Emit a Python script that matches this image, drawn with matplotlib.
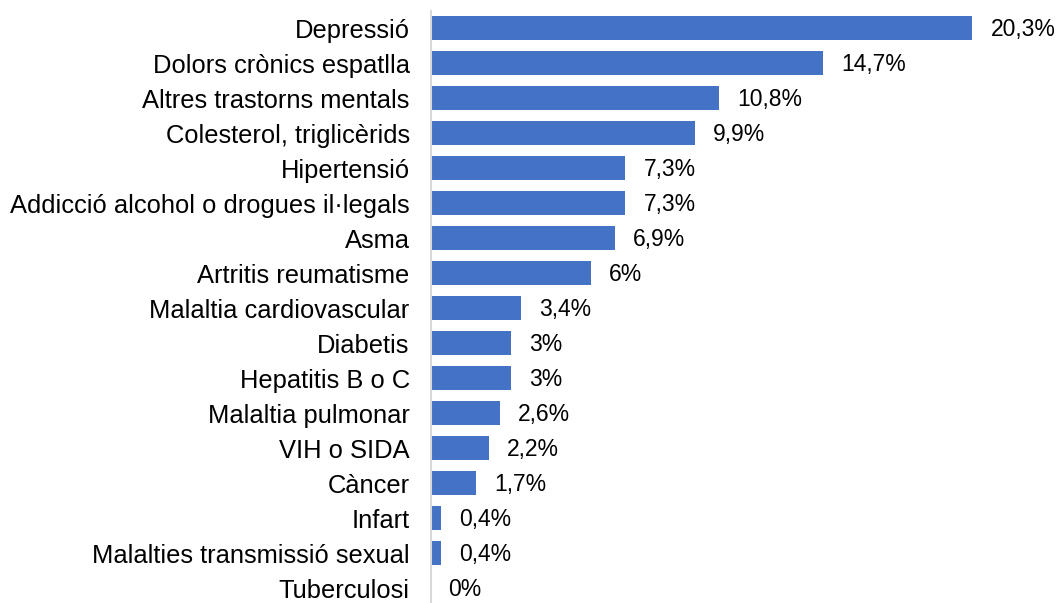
import matplotlib.pyplot as plt
import numpy as np

plt.rcParams['font.family'] = ['Liberation Sans', 'DejaVu Sans']

categories = ['Depressió', 'Dolors crònics espatlla', 'Altres trastorns mentals',
              'Colesterol, triglicèrids', 'Hipertensió',
              'Addicció alcohol o drogues il·legals', 'Asma', 'Artritis reumatisme',
              'Malaltia cardiovascular', 'Diabetis', 'Hepatitis B o C',
              'Malaltia pulmonar', 'VIH o SIDA', 'Càncer', 'Infart',
              'Malalties transmissió sexual', 'Tuberculosi']
values = [20.3, 14.7, 10.8, 9.9, 7.3, 7.3, 6.9, 6.0, 3.4, 3.0, 3.0, 2.6, 2.2, 1.7, 0.4, 0.4, 0.0]


def fmt(v):
    # Catalan style: comma decimal, no trailing ",0"
    s = f'{v:.1f}'.rstrip('0').rstrip('.')
    return s.replace('.', ',') + '%'


fig = plt.figure(figsize=(10.56, 6.03), dpi=100)
ax = fig.add_axes([0.4077, -0.0042, 0.5923, 0.9867])

y = np.arange(len(categories))
ax.barh(y, values, height=0.69, color='#4472C4')
for yi, v in zip(y, values):
    ax.annotate(fmt(v), (v, yi), xytext=(13, -1), textcoords='offset points',
                va='center', ha='left', fontsize=16.5, color='black')

ax.set_yticks(y)
ax.set_yticklabels(categories, fontsize=18.4)
ax.tick_params(axis='y', length=0, pad=15)
ax.set_xticks([])
ax.set_xlim(0, 23.43)
ax.set_ylim(len(categories) - 0.5, -0.5)
for side in ['top', 'right', 'bottom']:
    ax.spines[side].set_visible(False)
ax.spines['left'].set_color('#D9D9D9')
ax.spines['left'].set_linewidth(1.5)

fig.savefig('out.png', dpi=100)
